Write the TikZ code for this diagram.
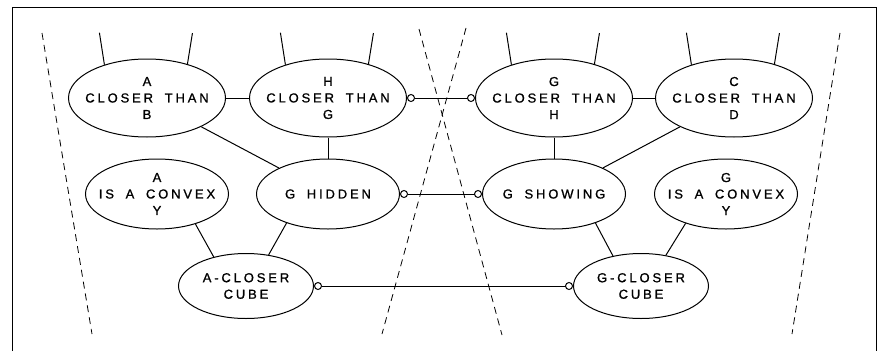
\documentclass[tikz,border=0pt]{standalone}
\usepackage{fontspec}
\newfontfamily\unitfont[LetterSpace=22, WordSpace=1.8, FakeBold=1]{Liberation Sans}
\usetikzlibrary{shapes.geometric, arrows.meta}

\begin{document}
\begin{tikzpicture}[x=1pt, y=-1pt, line width=1pt, >=Stealth,
    unit/.style={draw, ellipse, inner sep=-14pt, align=center,
      font=\unitfont\fontsize{13}{16.5}\selectfont},
    bigunit/.style={unit, minimum width=157pt, minimum height=78pt},
    smallunit/.style={unit, minimum width=143pt, minimum height=70pt},
    cubeunit/.style={unit, minimum width=135pt, minimum height=65pt},
    inhib/.style={{Circle[open,length=8pt]}-{Circle[open,length=8pt]}},
    divide/.style={line width=0.8pt, dash pattern=on 7pt off 5pt}]
    \useasboundingbox (0,0) rectangle (881,351);

    % Ramme
    \draw (12,351) -- (12,7) -- (876,7) -- (876,351);

    % Oeverste rad
    \node[bigunit] (acb) at (147,98) {A\\CLOSER THAN\\B};
    \node[bigunit] (hcg) at (328,98) {H\\CLOSER THAN\\G};
    \node[bigunit] (gch) at (554,98) {G\\CLOSER THAN\\H};
    \node[bigunit] (ccd) at (734,98) {C\\CLOSER THAN\\D};

    % Midtre rad
    \node[smallunit] (acx) at (157,194) {A\\IS A CONVEX\\Y};
    \node[smallunit] (ghid) at (328,194) {G HIDDEN};
    \node[smallunit] (gsh) at (554,194) {G SHOWING};
    \node[smallunit] (gcx) at (726,194) {G\\IS A CONVEX\\Y};

    % Kuber
    \node[cubeunit] (acc) at (246,286) {A-CLOSER\\CUBE};
    \node[cubeunit] (gcc) at (641,286) {G-CLOSER\\CUBE};

    % Inngaaende linjer over
    \foreach \n in {acb,hcg,gch,ccd} {
      \draw (\n.142) -- ++(-5,-32);
      \draw (\n.40) -- ++(5,-31);
    }

    % Forbindelser
    \draw (acb) -- (hcg);
    \draw[inhib] (hcg) -- (gch);
    \draw (gch) -- (ccd);
    \draw (acb) -- (ghid);
    \draw (hcg) -- (ghid);
    \draw (gch) -- (gsh);
    \draw (ccd) -- (gsh);
    \draw[inhib] (ghid) -- (gsh);
    \draw (acx.-38) -- (acc.138);
    \draw (ghid.-145) -- (acc.54);
    \draw (gsh.-35) -- (gcc.133);
    \draw (gcx.-144) -- (gcc.51);
    \draw[inhib] (acc) -- (gcc);

    % Stiplede skillelinjer
    \draw[divide] (42,33) -- (92,334);
    \draw[divide] (419,29) -- (502,335);
    \draw[divide] (466,28) -- (382,334);
    \draw[divide] (840,33) -- (792,334);
\end{tikzpicture}
\end{document}
